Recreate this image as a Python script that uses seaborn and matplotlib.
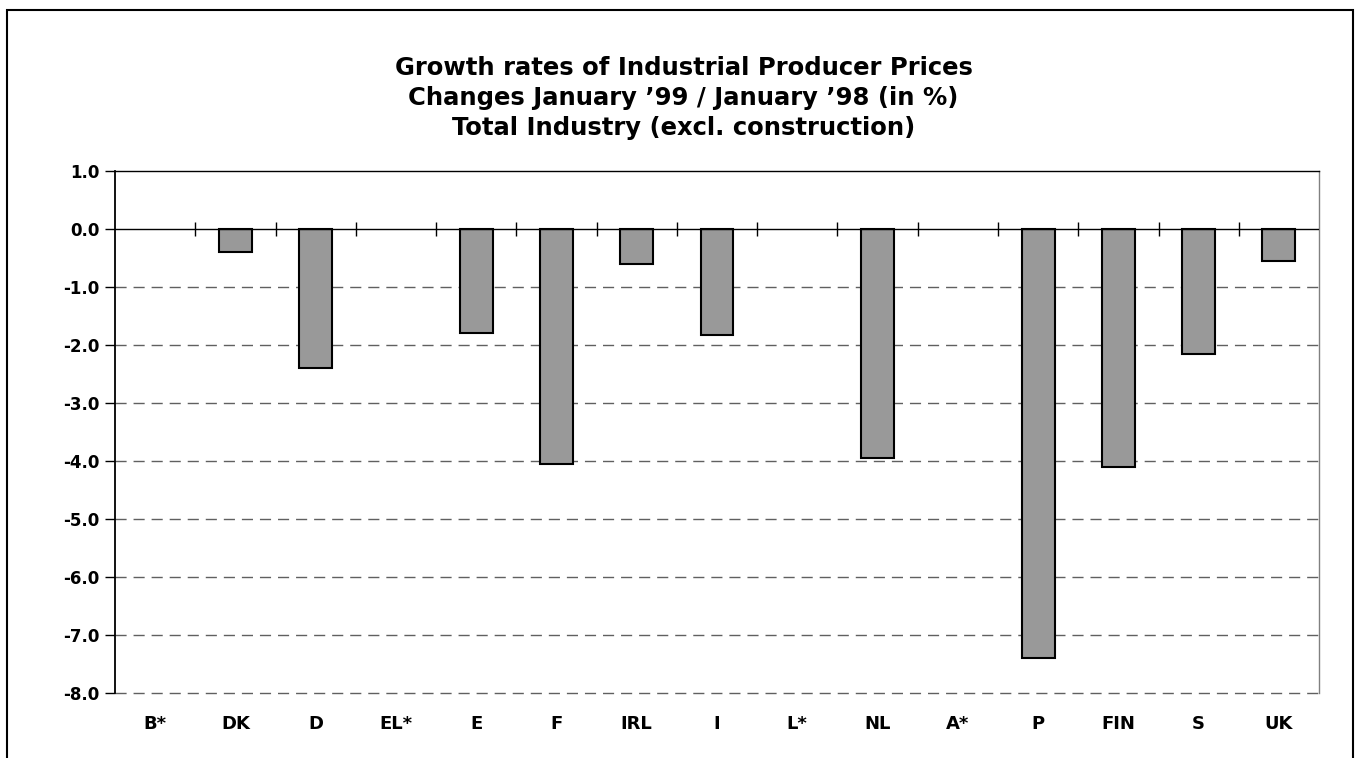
import numpy as np
import pandas as pd
import matplotlib
matplotlib.use("Agg")
import matplotlib.pyplot as plt
import seaborn as sns
from matplotlib.patches import Rectangle

countries = ["B*", "DK", "D", "EL*", "E", "F", "IRL", "I", "L*", "NL", "A*", "P", "FIN", "S", "UK"]
growth = [np.nan, -0.4, -2.4, np.nan, -1.8, -4.05, -0.6, -1.83, np.nan, -3.95, np.nan, -7.4, -4.1, -2.15, -0.55]
yticks = [1.0, 0.0, -1.0, -2.0, -3.0, -4.0, -5.0, -6.0, -7.0, -8.0]
title_lines = ["Growth rates of Industrial Producer Prices",
               "Changes January \u201999 / January \u201998 (in %)",
               "Total Industry (excl. construction)"]


def main():
    sns.set_style("white")
    plt.rcParams['font.family'] = ['DejaVu Sans']
    plt.rcParams['font.weight'] = 'bold'
    plt.rcParams['text.color'] = 'black'
    plt.rcParams['xtick.color'] = 'black'
    plt.rcParams['ytick.color'] = 'black'

    df = pd.DataFrame({"country": countries, "growth": growth})

    fig = plt.figure(figsize=(13.59, 7.58), dpi=100)
    ax = fig.add_axes([0.0846, 0.0858, 0.886, 0.6886])

    sns.barplot(data=df, x="country", y="growth", order=countries, color="#999999",
                saturation=1, width=0.41, edgecolor="black", linewidth=1.5, ax=ax, zorder=3)

    n = len(countries)
    ax.set_xlim(-0.5, n - 0.5)
    ax.set_ylim(min(yticks), max(yticks))
    ax.set_yticks(yticks)
    ax.set_yticklabels([f"{v:.1f}" for v in yticks], fontsize=12, fontweight="bold")
    ax.tick_params(axis="y", direction="out", length=7, width=1, color="black", pad=4, left=True)
    ax.tick_params(axis="x", length=0, pad=16, labelsize=13)
    for lab in ax.get_xticklabels():
        lab.set_fontweight("bold")
    ax.set_xlabel("")
    ax.set_ylabel("")

    # dashed gridlines for the negative values (bottom one stands in for the spine)
    for v in yticks:
        if v < 0:
            ax.axhline(v, color="#606060", linestyle=(0, (8, 5)), linewidth=1,
                       zorder=1, clip_on=False)
    ax.axhline(0, color="black", linewidth=1, zorder=4)

    # tick marks on the zero line between categories
    bounds = np.arange(n - 1) + 0.5
    ax.vlines(bounds, -0.12, 0.12, color="black", linewidth=1, zorder=4)

    ax.spines["left"].set_color("black")
    ax.spines["left"].set_linewidth(1.3)
    ax.spines["top"].set_color("black")
    ax.spines["top"].set_linewidth(1)
    ax.spines["right"].set_color("#808080")
    ax.spines["right"].set_linewidth(1)
    ax.spines["bottom"].set_visible(False)

    for i, line in enumerate(title_lines):
        fig.text(0.503, 0.9011 - i * 0.0396, line, ha="center", va="baseline",
                 fontsize=17.5, fontweight="bold", color="black")

    # outer chart frame
    fig.patches.append(Rectangle((0.005, -0.02), 0.9905, 1.007, transform=fig.transFigure,
                                 fill=False, edgecolor="black", linewidth=1.5))

    fig.savefig("out.png", dpi=100)
    plt.close(fig)


if __name__ == '__main__':
    main()
